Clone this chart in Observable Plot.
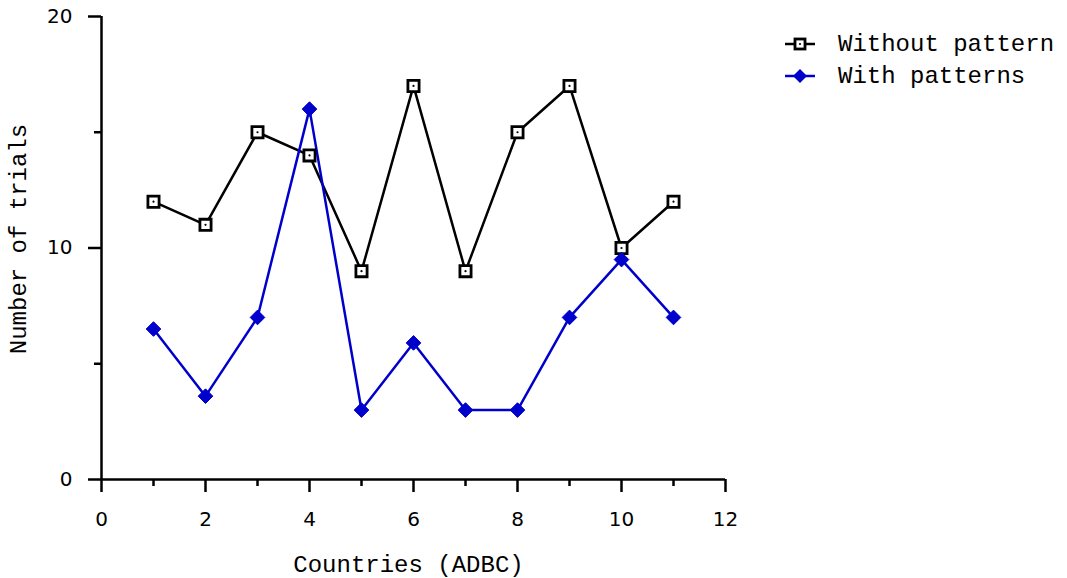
<!DOCTYPE html>
<html>
<head>
<meta charset="utf-8">
<script src="https://cdn.jsdelivr.net/npm/d3@7"></script>
<script src="https://cdn.jsdelivr.net/npm/@observablehq/plot@0.6"></script>
<style>
  html, body { margin: 0; padding: 0; background: #fff; }
  #wrap { position: relative; width: 1067px; height: 578px; }
  #legend { position: absolute; left: 780px; top: 28px; font-family: "Courier New", "Liberation Mono", monospace; font-size: 24px; color: #000; }
  .row { display: flex; align-items: center; height: 32px; }
  .row svg { margin-right: 22px; }
</style>
</head>
<body>
<div id="wrap"><div id="legend"></div></div>
<script>
const countries = [1, 2, 3, 4, 5, 6, 7, 8, 9, 10, 11];
const withoutPattern = [12, 11, 15, 14, 9, 17, 9, 15, 17, 10, 12];
const withPatterns = [6.5, 3.6, 7, 16, 3, 5.9, 3, 3, 7, 9.5, 7];
const xMajorTicks = [0, 2, 4, 6, 8, 10, 12];
const xMinorTicks = [1, 3, 5, 7, 9, 11];
const yMajorTicks = [0, 10, 20];
const yMinorTicks = [5, 15];
const seriesNames = ["Without pattern", "With patterns"];
const blue = "#0000cc";

const black = countries.map((x, i) => ({x, y: withoutPattern[i]}));
const bluePts = countries.map((x, i) => ({x, y: withPatterns[i]}));

const tickFont = "DejaVu Sans, sans-serif";
const monoFont = "Courier New, Liberation Mono, monospace";

const chart = Plot.plot({
  width: 1067,
  height: 578,
  marginLeft: 101,
  marginRight: 342,
  marginTop: 16,
  marginBottom: 99,
  x: {domain: [0, 12], axis: null},
  y: {domain: [0, 20], axis: null},
  style: {background: "#fff", color: "#000"},
  marks: [
    Plot.axisY(yMajorTicks, {tickSize: 13, tickPadding: 16, strokeWidth: 2.5, fontSize: 20, fontFamily: tickFont, tickFormat: d => String(d), label: null}),
    Plot.axisY(yMinorTicks, {tickSize: 7, strokeWidth: 2.5, tickFormat: () => "", label: null}),
    Plot.axisX(xMajorTicks, {tickSize: 13, tickPadding: 19, strokeWidth: 2.5, fontSize: 20, fontFamily: tickFont, tickFormat: d => String(d), label: null}),
    Plot.axisX(xMinorTicks, {tickSize: 7, strokeWidth: 2.5, tickFormat: () => "", label: null}),
    Plot.ruleX([0], {strokeWidth: 2.5}),
    Plot.ruleY([0], {strokeWidth: 2.5}),
    Plot.text(["Countries (ADBC)"], {frameAnchor: "bottom", dx: -5, dy: 85, fontSize: 24, fontFamily: monoFont, lineAnchor: "middle", textAnchor: "middle"}),
    Plot.text(["Number of trials"], {frameAnchor: "left", dx: -83, dy: -9, rotate: -90, fontSize: 24, fontFamily: monoFont, lineAnchor: "middle", textAnchor: "middle"}),
    Plot.line(black, {x: "x", y: "y", stroke: "#000", strokeWidth: 2.5}),
    Plot.line(bluePts, {x: "x", y: "y", stroke: blue, strokeWidth: 2.5}),
    Plot.dot(black, {x: "x", y: "y", symbol: "square", r: 6.3, stroke: "#000", strokeWidth: 2.8, fill: "#fff"}),
    Plot.dot(black, {x: "x", y: "y", r: 1.1, fill: "#000"}),
    Plot.dot(bluePts, {x: "x", y: "y", symbol: "diamond2", r: 6.6, fill: blue, stroke: blue, strokeWidth: 1})
  ]
});
document.getElementById("wrap").prepend(chart);

const legend = document.getElementById("legend");
seriesNames.forEach((name, i) => {
  const row = document.createElement("div");
  row.className = "row";
  const sym = i === 0
    ? `<svg width="36" height="20"><line x1="5" y1="10" x2="35" y2="10" stroke="#000" stroke-width="2.5"/><rect x="15" y="5" width="10" height="10" fill="#fff" stroke="#000" stroke-width="2.8"/><circle cx="20" cy="10" r="1.1" fill="#000"/></svg>`
    : `<svg width="36" height="20"><line x1="5" y1="10" x2="35" y2="10" stroke="${blue}" stroke-width="2.5"/><path d="M20,3 L27,10 L20,17 L13,10 Z" fill="${blue}"/></svg>`;
  row.innerHTML = sym + `<span>${name}</span>`;
  legend.appendChild(row);
});
</script>
</body>
</html>
